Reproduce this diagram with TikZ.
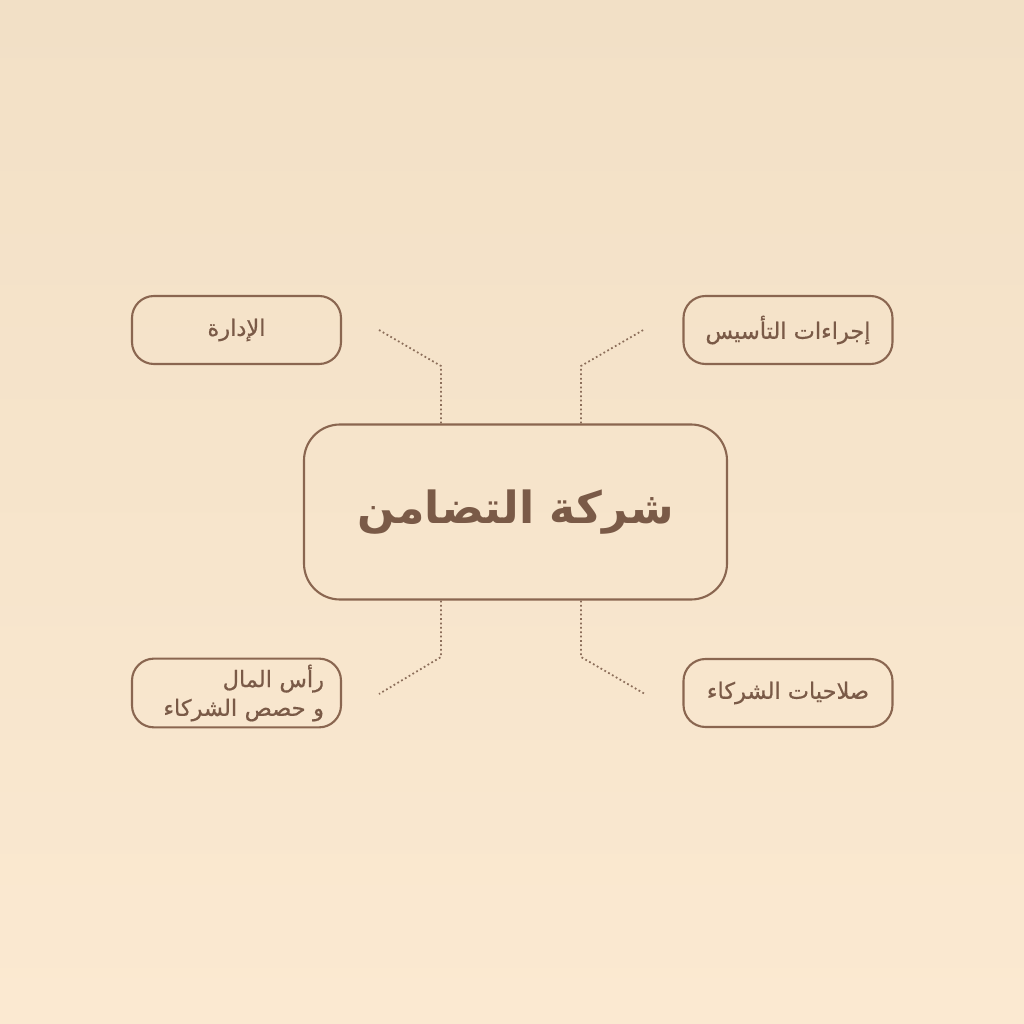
\documentclass[tikz,border=0pt]{standalone}
\usepackage{fontspec}
\newfontfamily\arabicfont[Script=Arabic]{DejaVu Sans}
\newfontfamily\arabicmid[Script=Arabic,FakeBold=0.6]{DejaVu Sans}
\TeXXeTstate=1
\definecolor{bgtop}{HTML}{F2E0C6}
\definecolor{bgbot}{HTML}{FBE9D1}
\definecolor{boxline}{HTML}{8A6650}
\definecolor{boxtext}{HTML}{7A5A47}
\definecolor{dotline}{HTML}{8C6E5A}

\begin{document}
\begin{tikzpicture}[
	item/.style={draw=boxline, line width=0.6pt, rounded corners=0.22cm,
		minimum width=2.09cm, minimum height=0.68cm, text=boxtext,
		font=\arabicmid\fontsize{6.4}{8}\selectfont},
	link/.style={draw=dotline, line width=0.5pt, dash pattern=on 0.5pt off 0.75pt}
	]
		\fill[top color=bgtop, bottom color=bgbot] (0,0) rectangle (10.24,10.24);
		\useasboundingbox (0,0) rectangle (10.24,10.24);
		\node (ctr) [draw=boxline, line width=0.6pt, rounded corners=0.36cm,
			minimum width=4.23cm, minimum height=1.75cm, text=boxtext,
			font=\arabicfont\bfseries\fontsize{12.6}{15}\selectfont]
			at (5.155,5.12) {\beginR شركة التضامن\endR};
		\node (tl) [item] at (2.365,6.94) {\beginR الإدارة\endR};
		\node (tr) [item] at (7.88,6.94) {\beginR إجراءات التأسيس\endR};
		\node (bl) [item, text width=1.75cm, align=right, inner xsep=0.17cm,
			inner ysep=0.06cm, font=\arabicmid\fontsize{6.4}{8.2}\selectfont]
			at (2.365,3.31)
			{\beginR رأس المال\endR\\\beginR و حصص الشركاء\endR};
		\node (br) [item] at (7.88,3.31) {\beginR صلاحيات الشركاء\endR};
		% bends and loose ends of the dotted leads
		\coordinate (tlbend) at (4.41,6.58);
		\coordinate (tlend) at (3.79,6.94);
		\coordinate (trbend) at (5.81,6.58);
		\coordinate (trend) at (6.45,6.95);
		\coordinate (blbend) at (4.41,3.67);
		\coordinate (blend) at (3.79,3.30);
		\coordinate (brbend) at (5.81,3.67);
		\coordinate (brend) at (6.45,3.30);
		\draw [link] (ctr.north -| tlbend) -- (tlbend) -- (tlend);
		\draw [link] (ctr.north -| trbend) -- (trbend) -- (trend);
		\draw [link] (ctr.south -| blbend) -- (blbend) -- (blend);
		\draw [link] (ctr.south -| brbend) -- (brbend) -- (brend);
\end{tikzpicture}
\end{document}
